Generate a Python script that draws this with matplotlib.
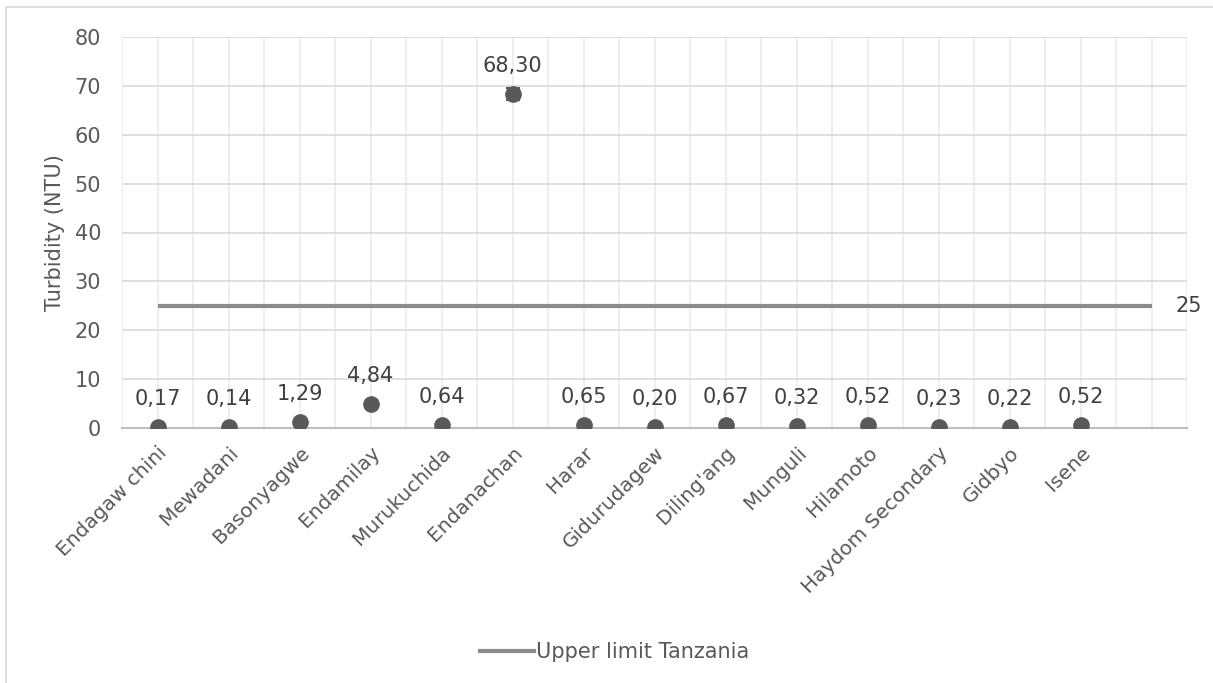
import matplotlib
matplotlib.use("Agg")
import matplotlib.pyplot as plt
from matplotlib.patches import Rectangle
from matplotlib.lines import Line2D
from matplotlib.ticker import MultipleLocator

sites = ["Endagaw chini", "Mewadani", "Basonyagwe", "Endamilay", "Murukuchida",
         "Endanachan", "Harar", "Gidurudagew", "Diling'ang", "Munguli",
         "Hilamoto", "Haydom Secondary", "Gidbyo", "Isene", ""]
turbidity = [0.17, 0.14, 1.29, 4.84, 0.64, 68.30, 0.65, 0.20, 0.67, 0.32,
             0.52, 0.23, 0.22, 0.52]
turbidity_err = [0, 0, 0, 0, 0, 1.2, 0, 0, 0, 0, 0, 0, 0, 0]
upper_limit = [25] * 15

POINT = "#595959"
LIMIT = "#8c8c8c"
TEXT = "#404040"
TICK = "#595959"
FS = 15

fig = plt.figure(figsize=(12.13, 6.83), dpi=100)
fig.patch.set_facecolor("white")
fig.patches.append(Rectangle((6 / 1213, -0.05), 1.1, 1.05 - 7 / 683, transform=fig.transFigure,
                             fill=False, edgecolor="#d9d9d9", linewidth=1.2))

ax = fig.add_axes([122 / 1213, 1 - 428 / 683, 1065 / 1213, 391 / 683])
x = list(range(len(sites)))

# limit line across all categories, value shown at its right end
ax.plot(x, upper_limit, color=LIMIT, linewidth=3, solid_capstyle="butt", zorder=2,
        label="Upper limit Tanzania")
ax.annotate(f"{upper_limit[-1]}", (x[-1], upper_limit[-1]), textcoords="offset points",
            xytext=(17, 0), ha="left", va="center", fontsize=FS, color=TEXT)

xs = x[:len(turbidity)]
ax.errorbar(xs, turbidity, yerr=turbidity_err, fmt="o", color=POINT, markersize=11,
            ecolor=POINT, elinewidth=1, capsize=5, capthick=1.5, zorder=3)
for xi, v in zip(xs, turbidity):
    ax.annotate(f"{v:.2f}".replace(".", ","), (xi, v), textcoords="offset points",
                xytext=(0, 13), ha="center", va="bottom", fontsize=FS, color=TEXT)

ax.set_xlim(-0.5, len(sites) - 0.5)
ax.set_ylim(0, 80)
ax.yaxis.set_major_locator(MultipleLocator(10))
ax.set_xticks(x)
ax.set_xticklabels(sites, rotation=45, ha="right", rotation_mode="anchor",
                   fontsize=14.5, color=TICK)
ax.set_xticks([i - 0.5 for i in range(len(sites) + 1)], minor=True)
ax.tick_params(axis="both", which="both", length=0)
ax.tick_params(axis="x", pad=11)
ax.tick_params(axis="y", labelsize=FS, labelcolor=TICK, pad=15)

ax.grid(axis="y", color="#d9d9d9", linewidth=1.2)
ax.grid(axis="x", which="both", color="#ebebeb", linewidth=1.2)
ax.set_axisbelow(True)
for side in ("top", "right", "left"):
    ax.spines[side].set_visible(False)
ax.spines["bottom"].set_color("#bfbfbf")
ax.spines["bottom"].set_linewidth(1.5)

ax.set_ylabel("Turbidity (NTU)", fontsize=FS, color=TICK, labelpad=7)

handle = Line2D([], [], color=LIMIT, linewidth=3)
fig.legend([handle], ["Upper limit Tanzania"], loc="center", bbox_to_anchor=(0.507, 1 - 652 / 683),
           frameon=False, fontsize=FS, labelcolor=TICK, handlelength=2.6, handletextpad=0.1)

fig.savefig("out.png", dpi=100, facecolor="white")
